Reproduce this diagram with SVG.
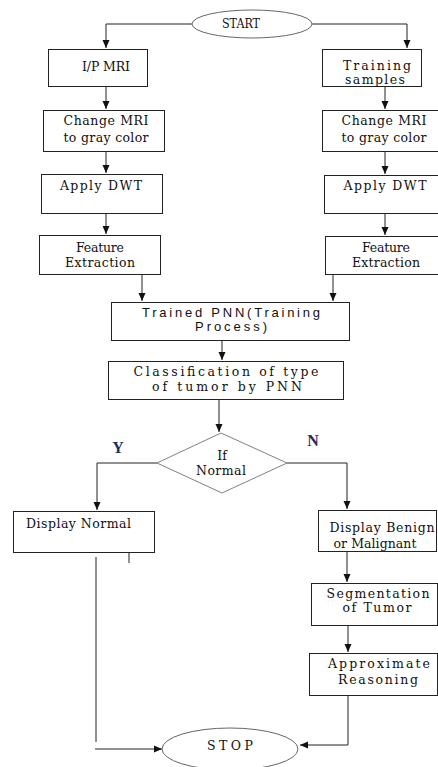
<svg xmlns="http://www.w3.org/2000/svg" width="438" height="767" viewBox="0 0 438 767">
<style>
.box{fill:#fff;stroke:#222;stroke-width:1}
.ell{fill:#fff;stroke:#666;stroke-width:1}
.dia{fill:#fff;stroke:#808080;stroke-width:1}
.c{fill:none;stroke:#222;stroke-width:1}
.ca{fill:none;stroke:#222;stroke-width:1;marker-end:url(#ah)}
text{font-family:"DejaVu Serif","Liberation Serif",serif;font-size:12.5px;fill:#111;text-anchor:middle}
.sans{font-family:"Liberation Sans",Arial,sans-serif;font-size:13px}
.lab{font-family:"Liberation Serif",serif;font-weight:bold;font-size:16px;fill:#1f2f5a}
</style>
<defs>
<marker id="ah" viewBox="0 0 8 8" refX="8" refY="4" markerWidth="8" markerHeight="8" markerUnits="userSpaceOnUse" orient="auto">
<path d="M0,0.5 L8,4 L0,7.5 Z" fill="#111"/>
</marker>
</defs>
<g id="connectors">
<polyline class="ca" points="192,24 106,24 106,48"/>
<polyline class="ca" points="312,24 407,24 407,48"/>
<line class="ca" x1="106" y1="86" x2="106" y2="109"/>
<line class="ca" x1="385" y1="86" x2="385" y2="109"/>
<line class="ca" x1="106" y1="152" x2="106" y2="173"/>
<line class="ca" x1="385" y1="152" x2="385" y2="174"/>
<line class="ca" x1="106" y1="214" x2="106" y2="234"/>
<line class="ca" x1="385" y1="213" x2="385" y2="235"/>
<line class="ca" x1="142" y1="275" x2="142" y2="301"/>
<line class="ca" x1="333" y1="275" x2="333" y2="301"/>
<line class="ca" x1="222" y1="341" x2="222" y2="360"/>
<line class="ca" x1="219" y1="399" x2="219" y2="432"/>
<polyline class="ca" points="157,463 97,463 97,510"/>
<polyline class="ca" points="287,463 347,463 347,509"/>
<line class="c" x1="129" y1="553" x2="129" y2="563"/>
<line class="c" x1="96" y1="557" x2="96" y2="742"/>
<line class="ca" x1="95" y1="749" x2="162" y2="749"/>
<line class="ca" x1="347" y1="551" x2="347" y2="582"/>
<line class="ca" x1="348" y1="625" x2="348" y2="652"/>
<polyline class="ca" points="348,695 348,745 300,745"/>
</g>
<g id="start">
<ellipse class="ell" cx="252" cy="24" rx="60" ry="14"/>
<text x="241" y="28" font-size="11.5" textLength="38" lengthAdjust="spacingAndGlyphs">START</text>
</g>
<g id="ip-mri">
<rect class="box" x="48.5" y="49.5" width="99" height="37"/>
<text x="106" y="71" textLength="48" lengthAdjust="spacing">I/P MRI</text>
</g>
<g id="training-samples">
<rect class="box" x="322.5" y="49.5" width="99" height="37"/>
<text x="377" y="69.5" font-size="12" textLength="68" lengthAdjust="spacing">Training</text>
<text x="375" y="84" font-size="12" textLength="60" lengthAdjust="spacing">samples</text>
</g>
<g id="gray-left">
<rect class="box" x="43.5" y="110.5" width="121" height="41"/>
<text x="106" y="124.5" textLength="85" lengthAdjust="spacing">Change MRI</text>
<text x="106" y="142" textLength="85" lengthAdjust="spacing">to gray color</text>
</g>
<g id="gray-right">
<rect class="box" x="322.5" y="110.5" width="120" height="41"/>
<text x="384" y="124.5" textLength="85" lengthAdjust="spacing">Change MRI</text>
<text x="384" y="142" textLength="85" lengthAdjust="spacing">to gray color</text>
</g>
<g id="dwt-left">
<rect class="box" x="41.5" y="174.5" width="121" height="39"/>
<text x="101" y="189.5" textLength="82" lengthAdjust="spacing">Apply DWT</text>
</g>
<g id="dwt-right">
<rect class="box" x="324.5" y="175.5" width="120" height="38"/>
<text x="385" y="189.5" textLength="83" lengthAdjust="spacing">Apply DWT</text>
</g>
<g id="feat-left">
<rect class="box" x="39.5" y="235.5" width="121" height="39"/>
<text x="100" y="251.5" textLength="48" lengthAdjust="spacing">Feature</text>
<text x="100" y="266.5" textLength="70" lengthAdjust="spacing">Extraction</text>
</g>
<g id="feat-right">
<rect class="box" x="325.5" y="236.5" width="120" height="38"/>
<text x="386" y="251.5" textLength="48" lengthAdjust="spacing">Feature</text>
<text x="386" y="266.5" textLength="68" lengthAdjust="spacing">Extraction</text>
</g>
<g id="trained-pnn">
<rect class="box" x="111.5" y="302.5" width="238" height="38"/>
<text class="sans" x="231" y="316.5" textLength="178" lengthAdjust="spacing">Trained PNN(Training</text>
<text class="sans" x="231" y="330.5" textLength="72" lengthAdjust="spacing">Process)</text>
</g>
<g id="classification">
<rect class="box" x="108.5" y="361.5" width="235" height="38"/>
<text x="226" y="375.5" textLength="185" lengthAdjust="spacing">Classification of type</text>
<text x="227" y="390.5" textLength="150" lengthAdjust="spacing">of tumor by PNN</text>
</g>
<g id="if-normal">
<polygon class="dia" points="221,433 287,463 222,493 157,463"/>
<text x="222" y="459.5">If</text>
<text x="221" y="475" textLength="50" lengthAdjust="spacing">Normal</text>
</g>
<text class="lab" x="118" y="452.5">Y</text>
<text class="lab" x="313" y="445.5">N</text>
<g id="display-normal">
<rect class="box" x="13.5" y="511.5" width="141" height="41"/>
<text x="78.5" y="527.5" textLength="105" lengthAdjust="spacing">Display Normal</text>
</g>
<g id="display-benign">
<rect class="box" x="318.5" y="510.5" width="118" height="41"/>
<text x="382" y="532" textLength="105" lengthAdjust="spacing">Display Benign</text>
<text x="375" y="548" textLength="83" lengthAdjust="spacing">or Malignant</text>
</g>
<g id="segmentation">
<rect class="box" x="311.5" y="583.5" width="126" height="42"/>
<text x="378" y="597.5" textLength="103" lengthAdjust="spacing">Segmentation</text>
<text x="377" y="611.5" textLength="69" lengthAdjust="spacing">of Tumor</text>
</g>
<g id="approx">
<rect class="box" x="309.5" y="653.5" width="128" height="42"/>
<text x="379" y="667.5" textLength="102" lengthAdjust="spacing">Approximate</text>
<text x="378" y="683.5" textLength="80" lengthAdjust="spacing">Reasoning</text>
</g>
<g id="stop">
<ellipse class="ell" cx="230" cy="749" rx="68" ry="21"/>
<text x="230" y="750" font-size="14" textLength="46" lengthAdjust="spacing">STOP</text>
</g>
</svg>
